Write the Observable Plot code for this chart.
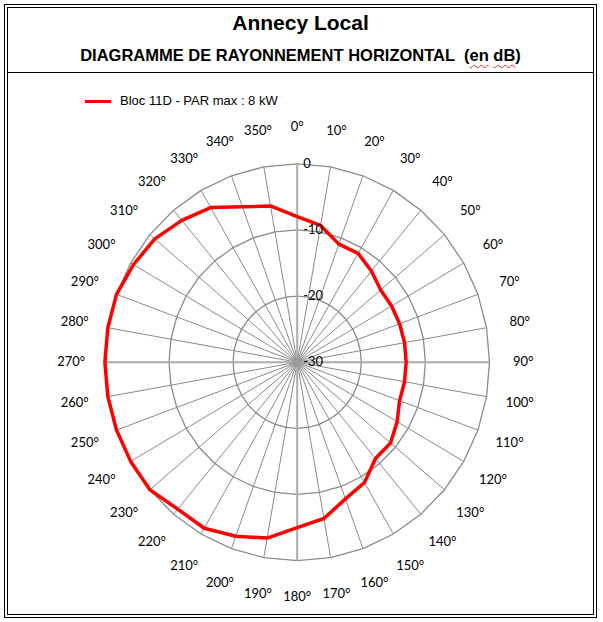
<!DOCTYPE html>
<html><head><meta charset="utf-8">
<script src="https://cdn.jsdelivr.net/npm/d3@7"></script>
<script src="https://cdn.jsdelivr.net/npm/@observablehq/plot@0.6"></script>
<style>
html,body{margin:0;padding:0;background:#fff;}
#frame{position:absolute;left:4px;top:4px;width:585px;height:606px;border:4px double #000;box-sizing:content-box;}
#head{position:relative;height:64px;border-bottom:1px solid #000;}
#title{position:absolute;left:0;right:0;top:3px;text-align:center;font:bold 21px/24px "Liberation Sans",Arial,sans-serif;color:#000;}
#subtitle{position:absolute;left:0;right:0;top:37px;text-align:center;font:bold 16.5px/20px "Liberation Sans",Arial,sans-serif;color:#000;white-space:pre;}
.sq{text-decoration:underline wavy #e03030;text-decoration-thickness:1px;text-underline-offset:3px;}
#legend{position:relative;height:42px;}
#swatch{position:absolute;left:77px;top:27px;width:26px;height:3px;background:#ff0000;}
#ltext{position:absolute;left:112px;top:20px;font:13px/16px "Liberation Sans",Arial,sans-serif;color:#000;white-space:pre;}
#chart svg{display:block;}
</style></head><body>
<div id="frame">
  <div id="head">
    <div id="title">Annecy Local</div>
    <div id="subtitle">DIAGRAMME DE RAYONNEMENT HORIZONTAL  (<span class="sq">en</span> <span class="sq">dB</span>)</div>
  </div>
  <div id="legend"><div id="swatch"></div><div id="ltext">Bloc 11D - PAR max : 8 kW</div></div>
  <div id="chart"></div>
</div>
<script>
// ---- data ----
const angles = [0,10,20,30,40,50,60,70,80,90,100,110,120,130,140,150,160,170,180,190,200,210,220,230,240,250,260,270,280,290,300,310,320,330,340,350];
const dbValues = [-8,-9,-11,-11,-12,-13,-13,-13,-13,-13,-13,-13,-12,-11,-11,-9,-8,-6,-5,-3,-2,-1,-1,0,0,0,0,0,0,0,-0.5,-1,-2,-3,-5,-6];
const angleLabels = angles.map(a => a + "°");
const ringLevels = [0, -10, -20];
const tickValues = [0, -10, -20, -30];
const tickLabels = ["0", "-10", "-20", "-30"];
const seriesName = "Bloc 11D - PAR max : 8 kW";

// ---- geometry helpers ----
const W = 585, H = 499;
const cx = 288.7, cy = 246.7, rx = 192.3, ry = 198.4;
const rad = a => a * Math.PI / 180;
const norm = v => (v + 30) / 30;

const pattern = angles.map((a, i) => ({a, db: dbValues[i], x: norm(dbValues[i]) * Math.sin(rad(a)), y: norm(dbValues[i]) * Math.cos(rad(a))}));
const rings = ringLevels.flatMap(l => [...angles, 360].map(a => ({l, x: norm(l) * Math.sin(rad(a)), y: norm(l) * Math.cos(rad(a))})));
const spokes = angles.map(a => ({a, x2: Math.sin(rad(a)), y2: Math.cos(rad(a)), major: a % 90 === 0}));
const labelData = angles.map((a, i) => ({label: angleLabels[i], x: 1.175 * Math.sin(rad(a)), y: 1.184 * Math.cos(rad(a))}));
const tickData = tickValues.map((v, i) => ({label: tickLabels[i], x: 0, y: norm(v)}));

const chart = Plot.plot({
  width: W, height: H,
  x: {domain: [-1, 1], range: [cx - rx, cx + rx], axis: null},
  y: {domain: [-1, 1], range: [cy + ry, cy - ry], axis: null},
  style: {fontFamily: "Lato, 'Open Sans', sans-serif", fontSize: "13px", background: "transparent", overflow: "visible", color: "#000"},
  marks: [
    Plot.link(spokes.filter(d => !d.major), {x1: 0, y1: 0, x2: "x2", y2: "y2", stroke: "#8a8a8a", strokeWidth: 1}),
    Plot.line(rings, {x: "x", y: "y", z: "l", stroke: "#8a8a8a", strokeWidth: 1.3}),
    Plot.link(spokes.filter(d => d.major), {x1: 0, y1: 0, x2: "x2", y2: "y2", stroke: "#ababab", strokeWidth: 2}),
    Plot.dot([{x: 0, y: 0}], {x: "x", y: "y", r: 4.5, fill: "#9a9a9a", stroke: "none"}),
    Plot.line(pattern, {x: "x", y: "y", curve: "linear-closed", stroke: "#ff0000", strokeWidth: 3.5, strokeLinejoin: "round", title: () => seriesName}),
    Plot.text(labelData, {x: "x", y: "y", text: "label", fill: "#000", textAnchor: "middle"}),
    Plot.text(tickData, {x: "x", y: "y", text: "label", fill: "#000", textAnchor: "start", dx: 6})
  ]
});
document.getElementById("chart").append(chart);
</script>
</body></html>
